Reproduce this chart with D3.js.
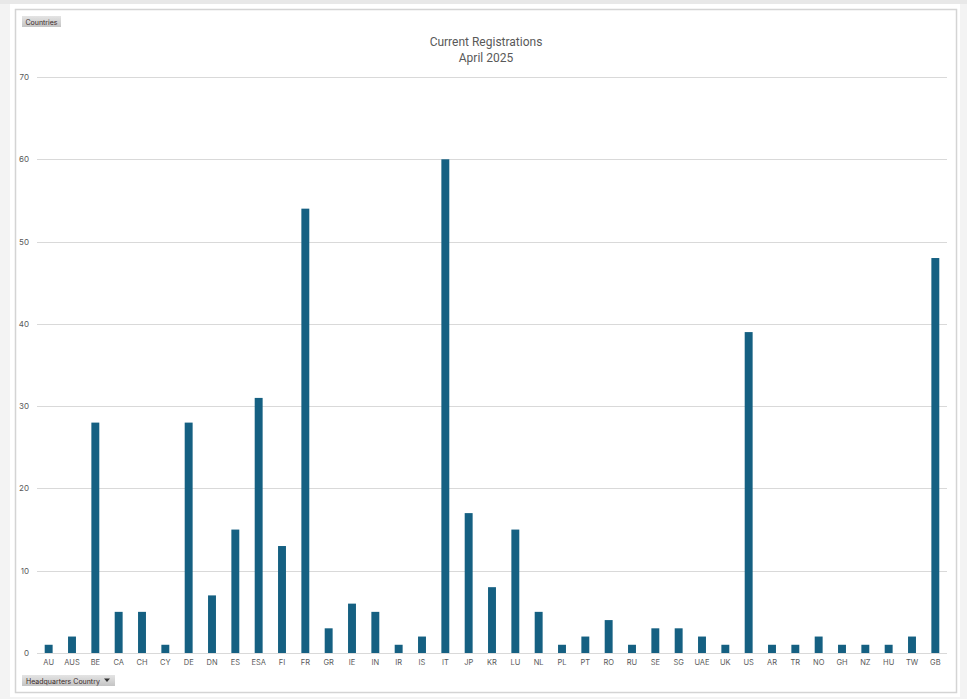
<!DOCTYPE html>
<html><head><meta charset="utf-8">
<script src="https://cdn.jsdelivr.net/npm/d3@7/dist/d3.min.js"></script>
<style>
html,body{margin:0;padding:0;background:#f3f3f3;}
svg{display:block;}
</style></head>
<body>
<svg id="c" width="967" height="699"></svg>
<script>
const categories = ["AU","AUS","BE","CA","CH","CY","DE","DN","ES","ESA","FI","FR","GR","IE","IN","IR","IS","IT","JP","KR","LU","NL","PL","PT","RO","RU","SE","SG","UAE","UK","US","AR","TR","NO","GH","NZ","HU","TW","GB"];
const registrations = [1,2,28,5,5,1,28,7,15,31,13,54,3,6,5,1,2,60,17,8,15,5,1,2,4,1,3,3,2,1,39,1,1,2,1,1,1,2,48];
const yTicks = [0,10,20,30,40,50,60,70];
const titleLines = ["Current Registrations","April 2025"];

const svg = d3.select("#c");
const W = 967, H = 699;
// outer panel
svg.append("rect").attr("x",0).attr("y",0).attr("width",W).attr("height",4).attr("fill","#e8e8e8");
svg.append("rect").attr("x",10).attr("y",4).attr("width",950).attr("height",693).attr("fill","#ffffff");
svg.append("rect").attr("x",15.5).attr("y",9.5).attr("width",941).attr("height",683).attr("fill","#fff").attr("stroke","#d4d4d4").attr("stroke-width",1.5);

const x = d3.scaleBand().domain(categories).range([37,947]).paddingInner(0.66).paddingOuter(0.33);
const y = d3.scaleLinear().domain([0,70]).range([653,77]);

const font = "Inter, 'Liberation Sans', Arial, sans-serif";
// gridlines
svg.append("g").selectAll("line").data(yTicks).join("line")
  .attr("x1",37).attr("x2",947)
  .attr("y1",d=>Math.round(y(d))+0.5).attr("y2",d=>Math.round(y(d))+0.5)
  .attr("stroke","#d9d9d9").attr("stroke-width",1);

// y axis labels
const yAxis = d3.axisLeft(y).tickValues(yTicks).tickSize(0).tickPadding(0).tickFormat(d3.format("d"));
const ya = svg.append("g").attr("transform","translate(29,0)").call(yAxis);
ya.select(".domain").remove();
ya.selectAll("text").attr("fill","#595959").attr("font-size","8px").attr("font-family",font);

// bars
svg.append("g").selectAll("rect").data(categories).join("rect")
  .attr("x",d=>x(d)).attr("width",x.bandwidth())
  .attr("y",(d,i)=>y(registrations[i])).attr("height",(d,i)=>y(0)-y(registrations[i]))
  .attr("fill","#156082");

// x axis labels
const xAxis = d3.axisBottom(x).tickSize(0).tickPadding(0);
const xa = svg.append("g").attr("transform","translate(0,660)").call(xAxis);
xa.select(".domain").remove();
xa.selectAll("text").attr("fill","#595959").attr("font-size","7.5px").attr("font-family",font);

// title
svg.append("g").selectAll("text").data(titleLines).join("text")
  .attr("x",486).attr("y",(d,i)=>46+i*16).attr("text-anchor","middle")
  .attr("font-size","12px").attr("font-family","Roboto, 'Liberation Sans', sans-serif").attr("fill","#595959").text(d=>d);

// buttons
const defs = svg.append("defs");
const g = defs.append("linearGradient").attr("id","btn").attr("x1",0).attr("y1",0).attr("x2",0).attr("y2",1);
g.append("stop").attr("offset","0%").attr("stop-color","#e4e4e4");
g.append("stop").attr("offset","100%").attr("stop-color","#c4c4c4");

svg.append("rect").attr("x",22).attr("y",16).attr("width",39).attr("height",11).attr("fill","url(#btn)");
svg.append("text").attr("x",41.5).attr("y",24.5).attr("text-anchor","middle").attr("font-size","7px")
  .attr("font-family",font).attr("fill","#3a2a2a").text("Countries");

svg.append("rect").attr("x",22).attr("y",675).attr("width",93).attr("height",11).attr("fill","url(#btn)");
svg.append("text").attr("x",26).attr("y",683.5).attr("font-size","7px")
  .attr("font-family",font).attr("fill","#3a2a2a").text("Headquarters Country");
svg.append("path").attr("d","M104,678.5 L110,678.5 L107,682 Z").attr("fill","#333");
</script>
</body></html>
